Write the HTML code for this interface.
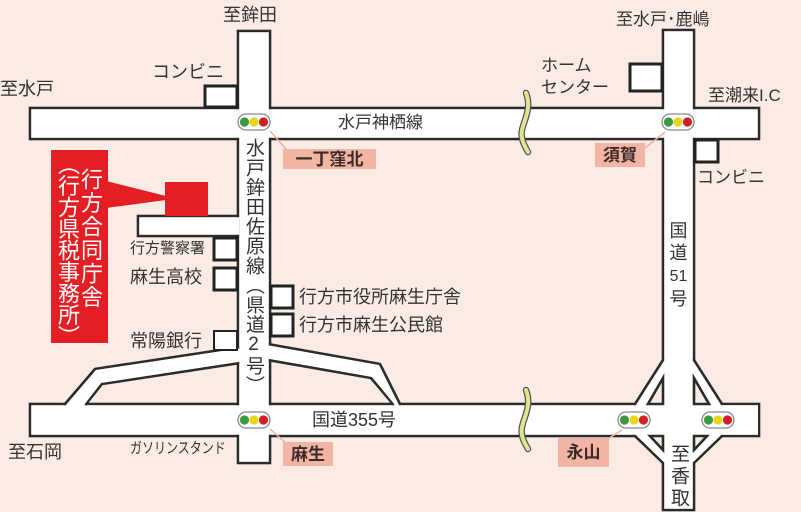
<!DOCTYPE html>
<html><head><meta charset="utf-8"><style>
html,body{margin:0;padding:0;background:#fbebe5;}
body{width:801px;height:512px;overflow:hidden;position:relative;font-family:"Liberation Sans","Noto Sans CJK JP",sans-serif;color:#333;}
.t{position:absolute;white-space:nowrap;line-height:1;}
.v{position:absolute;writing-mode:vertical-rl;text-orientation:upright;line-height:1;}
.p{position:absolute;background:#f3b5a3;color:#3a2a28;font-weight:bold;font-size:17px;line-height:1;display:flex;align-items:center;justify-content:center;}
</style></head><body>
<svg width="801" height="512" style="position:absolute;left:0;top:0">
<defs>
<g id="tl">
<rect x="-16" y="-8" width="32" height="16" rx="8" fill="#fff" stroke="#888" stroke-width="1.3"/>
<circle cx="-9.5" cy="0" r="4.6" fill="#3c9a3e"/>
<circle cx="0" cy="0" r="4.6" fill="#ead41c"/>
<circle cx="9.5" cy="0" r="4.6" fill="#d41f2b"/>
</g>
</defs>
<g stroke="#2b2b2b" stroke-width="2.6" fill="#fff">
<rect x="30" y="108" width="729" height="31"/>
<rect x="30" y="404" width="729" height="32"/>
<rect x="238" y="31" width="32" height="432"/>
<rect x="663" y="30" width="31" height="480"/>
<rect x="138" y="216" width="100" height="20"/>
<polygon points="240,347 95,369 65,404 65,408 86,408 86,404 102,384 240,363"/>
<polygon points="268,344 380,364 400,404 400,408 393,408 393,404 371,378 268,360"/>
<polygon points="635,404 663,360 694,360 722,404 722,436 694,463 663,463 635,436"/>
</g>
<g fill="#fff">
<rect x="31.3" y="109.3" width="726.4" height="28.4"/>
<rect x="31.3" y="405.3" width="726.4" height="29.4"/>
<rect x="239.3" y="32.3" width="29.4" height="429.4"/>
<rect x="664.3" y="31.3" width="28.4" height="477.4"/>
<rect x="139.3" y="217.3" width="100" height="17.4"/>
<polygon points="240,348.5 96,370 68,405 84,405 101,383 240,361.5"/>
<polygon points="268,345.5 379,365 397,405 395,405 372,377 268,358.5"/>
<polygon points="636.5,405 664,361.3 693,361.3 720.7,405 720.7,435 693.5,461.7 663.5,461.7 636.3,435"/>
<rect x="664.3" y="360" width="28.4" height="104"/>
<rect x="634" y="405.3" width="124" height="29.4"/>
</g>
<g stroke="#2b2b2b" stroke-width="2.6" fill="#fbebe5">
<polygon points="663,378 663,404 648,404"/>
<polygon points="694,378 694,404 709,404"/>
<polygon points="663,450 663,436 650,436"/>
<polygon points="694,450 694,436 707,436"/>
</g>
<g stroke="#222" stroke-width="3" fill="#fff">
<rect x="205" y="86" width="32" height="21"/>
<rect x="630" y="64" width="32" height="27"/>
<rect x="695" y="140" width="23" height="22"/>
<rect x="214" y="238" width="23" height="22"/>
<rect x="214" y="268" width="23" height="22"/>
<rect x="271" y="286" width="22" height="22"/>
<rect x="271" y="314" width="22" height="22"/>
</g>
<rect x="214" y="331" width="23" height="19" fill="#fff" stroke="#222" stroke-width="2"/>
<rect x="165" y="182" width="43" height="34" fill="#e31e24"/>
<polygon points="106,181 166,196 166,200 106,208" fill="#e31e24"/>
<rect x="51" y="150" width="57" height="193" fill="#e31e24"/>
<g fill="none" stroke-linecap="round">
<path d="M526,93 C532,108 524,120 522,130 C520,140 526,148 528,152" stroke="#555" stroke-width="6.5"/>
<path d="M526,93 C532,108 524,120 522,130 C520,140 526,148 528,152" stroke="#e1e58f" stroke-width="4"/>
<path d="M526,390 C532,405 524,417 522,427 C520,437 526,445 528,449" stroke="#555" stroke-width="6.5"/>
<path d="M526,390 C532,405 524,417 522,427 C520,437 526,445 528,449" stroke="#e1e58f" stroke-width="4"/>
</g>
<g stroke="#f0b0a0" stroke-width="1.5">
<line x1="270" y1="131" x2="287" y2="150"/>
<line x1="665" y1="132" x2="645" y2="148"/>
<line x1="270" y1="429" x2="287" y2="444"/>
<line x1="622" y1="430" x2="603" y2="442"/>
</g>
<use href="#tl" x="254" y="122"/>
<use href="#tl" x="678" y="122"/>
<use href="#tl" x="254" y="420"/>
<use href="#tl" x="634" y="420"/>
<use href="#tl" x="718" y="420"/>
</svg>
<div class="p" style="left:283px;top:149px;width:93px;height:20px;">一丁窪北</div>
<div class="p" style="left:595px;top:143px;width:50px;height:24px;">須賀</div>
<div class="p" style="left:283px;top:442px;width:50px;height:24px;">麻生</div>
<div class="p" style="left:558px;top:438px;width:51px;height:29px;">永山</div>

<div class="t" style="left:223px;top:6px;font-size:18px;">至鉾田</div>
<div class="t" style="left:0px;top:80px;font-size:18px;">至水戸</div>
<div class="t" style="left:152px;top:63px;font-size:18px;">コンビニ</div>
<div class="t" style="left:338px;top:114px;font-size:17px;">水戸神栖線</div>
<div class="t" style="left:616px;top:11px;font-size:17px;">至水戸･鹿嶋</div>
<div class="t" style="left:541px;top:55px;font-size:17px;line-height:22px;">ホーム<br>センター</div>
<div class="t" style="left:708px;top:87px;font-size:17px;">至潮来I.C</div>
<div class="t" style="left:697px;top:169px;font-size:17px;">コンビニ</div>
<div class="t" style="left:669px;top:220px;font-size:18px;line-height:22px;text-align:center;width:19px;">国<br>道<br><span style="font-size:16px;">51</span><br>号</div>
<div class="v" style="left:244px;top:138px;font-size:19px;letter-spacing:0.6px;">水戸鉾田佐原線（県道2号）</div>
<div class="t" style="left:130px;top:241px;font-size:15px;">行方警察署</div>
<div class="t" style="left:130px;top:268px;font-size:18px;">麻生高校</div>
<div class="t" style="left:130px;top:332px;font-size:18px;">常陽銀行</div>
<div class="t" style="left:299px;top:288px;font-size:18px;">行方市役所麻生庁舎</div>
<div class="t" style="left:299px;top:316px;font-size:18px;">行方市麻生公民館</div>
<div class="t" style="left:312px;top:411px;font-size:18px;">国道355号</div>
<div class="t" style="left:8px;top:443px;font-size:18px;">至石岡</div>
<div class="t" style="left:130px;top:441px;font-size:15px;transform:scaleX(0.8);transform-origin:left;">ガソリンスタンド</div>
<div class="v" style="left:669px;top:444px;font-size:19px;letter-spacing:3px;">至香取</div>
<div class="v" style="left:79px;top:168px;font-size:22px;color:#fff;letter-spacing:1.5px;">行方合同庁舎</div>
<div class="v" style="left:56px;top:153px;font-size:22px;color:#fff;letter-spacing:-0.5px;">（行方県税事務所）</div>
</body></html>
